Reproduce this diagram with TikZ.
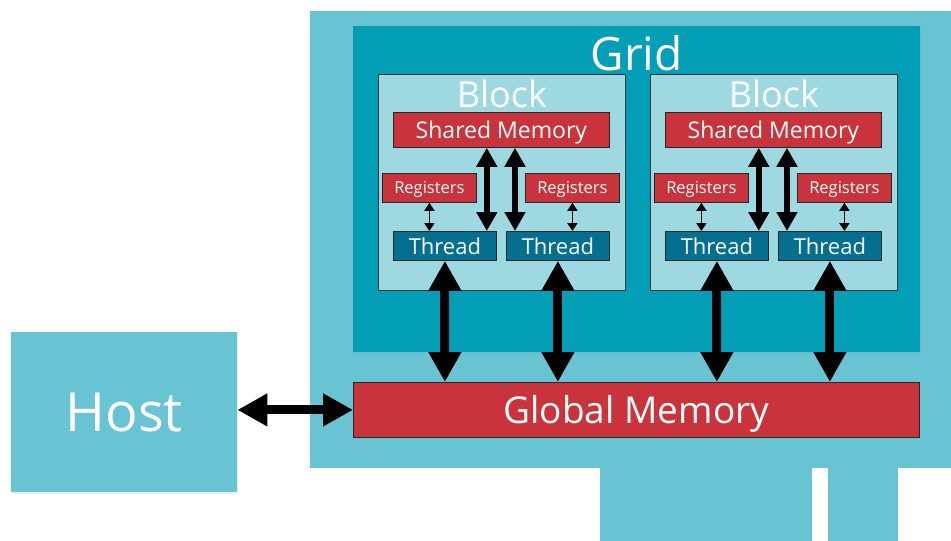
\documentclass[tikz,border=0pt]{standalone}
\usepackage{fontspec}
\setmainfont{Open Sans}
\usetikzlibrary{arrows.meta,shadows}

\definecolor{cardteal}{HTML}{68C4D3}
\definecolor{gridteal}{HTML}{029EB6}
\definecolor{blockteal}{HTML}{9ED9E1}
\definecolor{memred}{HTML}{C9333B}
\definecolor{threadblue}{HTML}{046F8F}

\newcommand{\fs}[1]{\fontsize{#1}{#1}\selectfont}

\tikzset{
  box/.style={rectangle, anchor=north west, inner sep=0pt, text=white, text depth=0pt},
  hostbox/.style={box, fill=cardteal,
    drop shadow={opacity=0.15, shadow xshift=1pt, shadow yshift=-2pt}},
  gridbox/.style={box, fill=gridteal,
    drop shadow={opacity=0.1, shadow xshift=2pt, shadow yshift=-2pt}},
  blockbox/.style={box, fill=blockteal, draw=black!80, line width=0.8pt},
  membox/.style={box, fill=memred, draw=black!85, line width=0.8pt},
  threadbox/.style={box, fill=threadblue, draw=black!85, line width=0.8pt},
  title/.style={text=white, inner sep=0pt, text depth=0pt},
  bigarrow/.style={{Triangle[width=31pt,length=30pt]}-{Triangle[width=31pt,length=30pt]}, line width=9pt},
  midarrow/.style={{Triangle[width=20pt,length=19pt]}-{Triangle[width=20pt,length=19pt]}, line width=6pt},
  smallarrow/.style={{Triangle[width=10pt,length=8pt]}-{Triangle[width=10pt,length=8pt]}, line width=1.8pt},
}

\begin{document}
\begin{tikzpicture}[x=1pt, y=-1pt]
  \useasboundingbox (0,0) rectangle (951,541);

  % the card with its two connector tabs
  \fill[cardteal] (310,11) rectangle (951,468);
  \fill[cardteal] (600,468) rectangle (812,541);
  \fill[cardteal] (828,468) rectangle (898,541);

  \node[hostbox, minimum width=226, minimum height=160, font=\fs{54}] (host) at (11,332) {Host};

  \node[gridbox, minimum width=567, minimum height=326] (grid) at (353,26) {};
  \node[title, font=\fs{46}] (gridname) at ([yshift=-27pt]grid.north) {Grid};

  \node[membox, minimum width=566, minimum height=55, font=\fs{37}] (glob) at (353,382) {Global Memory};

  % two blocks, each with shared memory, registers and threads
  \foreach \b/\bx in {1/378, 2/650} {
    \node[blockbox, minimum width=247, minimum height=216] (blk\b) at (\bx,74) {};
    \node[title, font=\fs{36}] (blkname\b) at ([yshift=-20pt]blk\b.north) {Block};
    \node[membox, minimum width=216, minimum height=35, font=\fs{23}] (smem\b) at (\bx+15,112) {Shared Memory};
    \node[membox, minimum width=94, minimum height=29, font=\fs{16.5}] (regA\b) at (\bx+4,173) {Registers};
    \node[membox, minimum width=94, minimum height=29, font=\fs{16.5}] (regB\b) at (\bx+147,173) {Registers};
    \node[threadbox, minimum width=103, minimum height=29, font=\fs{22}] (thrA\b) at (\bx+15,231) {Thread};
    \node[threadbox, minimum width=103, minimum height=29, font=\fs{22}] (thrB\b) at (\bx+128,231) {Thread};

    \draw[smallarrow] (regA\b.south) -- (regA\b.south |- thrA\b.north);
    \draw[smallarrow] (regB\b.south) -- (regB\b.south |- thrB\b.north);
    \draw[midarrow] ([xshift=-10pt]thrA\b.north east |- smem\b.south) -- ([xshift=-10pt]thrA\b.north east);
    \draw[midarrow] ([xshift=9pt]thrB\b.north west |- smem\b.south) -- ([xshift=9pt]thrB\b.north west);
    \draw[bigarrow] (thrA\b.south) -- (thrA\b.south |- glob.north);
    \draw[bigarrow] (thrB\b.south) -- (thrB\b.south |- glob.north);
  }

  \draw[bigarrow] (host.east |- glob.west) -- (glob.west);
\end{tikzpicture}
\end{document}
